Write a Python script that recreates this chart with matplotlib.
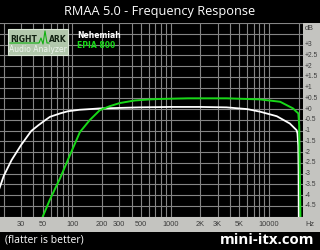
import numpy as np
import matplotlib
matplotlib.use("Agg")
import matplotlib.pyplot as plt
from matplotlib.patches import Rectangle

# frequency response (Hz, dB)
white_freq = [18, 20, 24, 30, 38, 45, 53, 59, 75, 90, 119, 190, 486, 1000, 2000,
              3700, 6000, 8100, 12000, 16300, 19100, 19500, 19850, 20000, 20100, 20200]
white_db = [-3.7, -3.1, -2.37, -1.67, -1.02, -0.75, -0.51, -0.36, -0.2, -0.1, -0.03,
            0.03, 0.08, 0.1, 0.1, 0.08, 0.0, -0.12, -0.33, -0.67, -0.98, -1.13,
            -1.7, -2.8, -5.0, -6.0]

green_freq = [48, 49.8, 59, 75, 94, 119, 150, 190, 241, 303, 430, 610, 770, 1500,
              3700, 8100, 13000, 17600, 19100, 19900, 20300, 20600, 20900, 21000]
green_db = [-5.4, -5.0, -4.2, -3.2, -2.15, -1.07, -0.51, -0.05, 0.14, 0.28, 0.4,
            0.45, 0.47, 0.5, 0.5, 0.45, 0.34, 0.03, -0.13, -0.2, -0.75, -2.8,
            -5.0, -5.6]

xlabels = ["30", "50", "100", "200", "300", "500", "1000", "2K", "3K", "5K", "10000"]
xlabel_freq = [30, 50, 100, 200, 300, 500, 1000, 2000, 3000, 5000, 10000]
grid_freq = [20, 30, 40, 50, 60, 70, 80, 90, 100, 200, 300, 400, 500, 600, 700,
             800, 900, 1000, 2000, 3000, 4000, 5000, 6000, 7000, 8000, 9000,
             10000, 20000]
db_ticks = np.arange(-5, 4.01, 0.5)

W, H = 320., 250.
fig = plt.figure(figsize=(3.2, 2.5), dpi=100, facecolor="black")

strip = "#c4c4c0"
fig.patches.append(Rectangle((0, 1 - 232/H), 1, 15.5/H, transform=fig.transFigure,
                             facecolor=strip, edgecolor="none", zorder=0))
fig.patches.append(Rectangle((303/W, 1 - 232/H), 17/W, 209/H, transform=fig.transFigure,
                             facecolor=strip, edgecolor="none", zorder=0))

ax = fig.add_axes([0, 1 - 216.7/H, 303/W, (216.7 - 23)/H])
ax.set_zorder(2)
ax.set_facecolor("black")
ax.set_xscale("log")
ax.set_xlim(18.3, 22200)
ax.set_ylim(-5, 4)
for s in ax.spines.values():
    s.set_visible(False)

ax.set_xticks(grid_freq)
ax.set_xticks([], minor=True)
ax.set_xticklabels([])
ax.set_yticks(db_ticks)
ax.set_yticklabels([])
ax.tick_params(length=0)
ax.grid(True, color="#858585", linewidth=0.8)

ax.plot(white_freq, white_db, color="white", lw=1.3, zorder=3)
ax.plot(green_freq, green_db, color="#18d818", lw=1.4, zorder=4)

lab_col = "#3c3c3c"
lab_font = "Liberation Sans"
for f, t in zip(xlabel_freq, xlabels):
    ax.annotate(t, xy=(f, 0), xycoords=("data", "axes fraction"),
                xytext=(0, -7.5), textcoords="offset pixels",
                ha="center", va="center", fontsize=5.3, color=lab_col,
                family=lab_font, annotation_clip=False)
fig.text(305/W, 1 - 224/H, "Hz", ha="left", va="center", fontsize=5.3,
         color=lab_col, family=lab_font)
fig.text(305/W, 1 - 28/H, "dB", ha="left", va="center", fontsize=5.3,
         color=lab_col, family=lab_font)
for v in db_ticks:
    if v < -4.6 or v > 3.1:
        continue
    if v >= 0:
        t = "+%g" % v
    else:
        t = "%g" % v
    ax.annotate(t, xy=(1, v), xycoords=("axes fraction", "data"),
                xytext=(1.5, 0), textcoords="offset pixels",
                ha="left", va="center", fontsize=4.8, color=lab_col,
                family=lab_font, annotation_clip=False)

# RightMark logo
fig.patches.append(Rectangle((8/W, 1 - 55/H), 60/W, 26/H, transform=fig.transFigure,
                             facecolor="#b2c8ac", edgecolor="#dce8d8", lw=0.8, zorder=5))
fig.text(10/W, 1 - 39/H, "RIGHT", fontsize=5.5, fontweight="bold", color="#102010",
         ha="left", va="center", zorder=6)
fig.text(67/W, 1 - 39/H, "ARK", fontsize=5.5, fontweight="bold", color="#102010",
         ha="right", va="center", zorder=6)
px = np.array([10, 39, 41, 43, 45, 47, 49])
py = np.array([43, 43, 38, 44, 31, 43, 43])
fig.lines.append(plt.Line2D(px/W, 1 - py/H, transform=fig.transFigure,
                            color="#10b010", lw=0.8, zorder=6))
fig.text(38/W, 1 - 50/H, "Audio Analyzer", fontsize=5.5, color="#eef4ee",
         ha="center", va="center", zorder=6)

fig.text(77/W, 1 - 36/H, "Nehemiah", fontsize=5.5, fontweight="bold", color="white",
         ha="left", va="center")
fig.text(77/W, 1 - 46/H, "EPIA 800", fontsize=5.5, fontweight="bold", color="#18d818",
         ha="left", va="center")

fig.text(0.5, 1 - 12/H, "RMAA 5.0 - Frequency Response", fontsize=9.2, color="white",
         family="Open Sans", ha="center", va="center")
fig.text(5/W, 1 - 240/H, "(flatter is better)", fontsize=7.5, color="white",
         family="Open Sans", ha="left", va="center")
fig.text(314/W, 1 - 240/H, "mini-itx.com", fontsize=10.8, color="white",
         family="Open Sans", fontweight="bold", ha="right", va="center")

fig.savefig("out.png", dpi=100, facecolor="black")
